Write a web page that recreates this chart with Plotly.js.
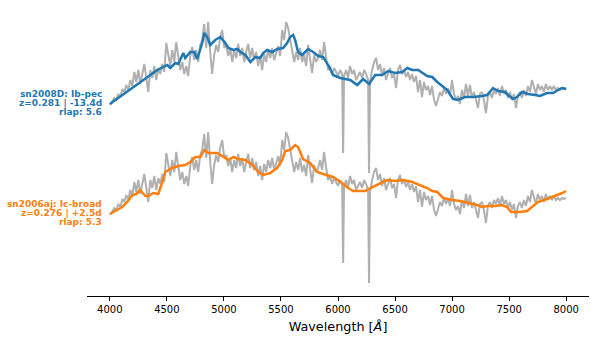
<!DOCTYPE html>
<html>
<head>
<meta charset="utf-8">
<script src="https://cdn.plot.ly/plotly-3.0.1.min.js"></script>
<style>
  html, body { margin: 0; padding: 0; background: #fff; }
  #chart { width: 598px; height: 345px; }
</style>
</head>
<body>
<div id="chart"></div>
<script>
// Observed spectrum (normalised flux), drawn twice with an offset under each template
const grayWave = [
  4004, 4022, 4039, 4057, 4074, 4092, 4110, 4127, 4145, 4162, 4180, 4197, 4215, 4232, 4250, 4267, 4285, 4302, 4320, 4337,
  4355, 4372, 4390, 4407, 4425, 4442, 4460, 4477, 4495, 4512, 4530, 4547, 4565, 4582, 4600, 4617, 4635, 4652, 4670, 4687,
  4705, 4722, 4740, 4757, 4775, 4792, 4810, 4827, 4845, 4862, 4880, 4897, 4915, 4932, 4950, 4967, 4985, 5003, 5020, 5038,
  5055, 5073, 5090, 5108, 5125, 5143, 5160, 5178, 5195, 5213, 5230, 5248, 5265, 5283, 5300, 5318, 5335, 5353, 5370, 5388,
  5406, 5423, 5441, 5458, 5476, 5493, 5511, 5528, 5546, 5563, 5581, 5598, 5616, 5633, 5651, 5668, 5686, 5703, 5721, 5738,
  5756, 5773, 5791, 5808, 5826, 5843, 5861, 5878, 5896, 5913, 5931, 5948, 5966, 5983, 6001, 6018, 6036, 6045, 6053, 6071,
  6088, 6106, 6123, 6141, 6158, 6176, 6193, 6211, 6229, 6246, 6264, 6272, 6281, 6299, 6316, 6334, 6351, 6369, 6386, 6404,
  6421, 6439, 6456, 6474, 6491, 6509, 6526, 6544, 6561, 6579, 6596, 6614, 6631, 6649, 6666, 6684, 6701, 6719, 6736, 6754,
  6771, 6789, 6807, 6824, 6842, 6859, 6877, 6894, 6912, 6929, 6947, 6964, 6982, 6999, 7017, 7034, 7052, 7069, 7087, 7104,
  7122, 7139, 7157, 7174, 7192, 7209, 7227, 7244, 7262, 7279, 7297, 7314, 7332, 7349, 7367, 7384, 7402, 7419, 7437, 7455,
  7472, 7490, 7507, 7525, 7542, 7560, 7577, 7595, 7612, 7630, 7647, 7665, 7682, 7700, 7717, 7735, 7752, 7770, 7787, 7805,
  7822, 7840, 7858, 7875, 7893, 7910, 7928, 7945, 7963, 7980, 7998
];
const grayFlux = [
  0.81, 0.84, 0.88, 0.86, 0.92, 0.89, 0.97, 0.94, 1.01, 0.96, 1.06, 1.00, 1.14, 1.04, 1.16, 1.02, 1.12, 1.22, 1.08, 0.94,
  1.16, 1.08, 1.20, 1.06, 1.18, 1.12, 1.22, 1.14, 1.43, 1.31, 1.20, 1.36, 1.24, 1.44, 1.28, 1.16, 1.24, 1.12, 1.20, 1.10,
  1.30, 1.39, 1.26, 1.36, 1.24, 1.41, 1.46, 1.62, 1.38, 1.64, 1.34, 1.12, 1.31, 1.41, 1.34, 1.48, 1.56, 1.38, 1.41, 1.30,
  1.38, 1.24, 1.36, 1.28, 1.42, 1.30, 1.38, 1.24, 1.34, 1.42, 1.28, 1.38, 1.26, 1.34, 1.20, 1.30, 1.16, 1.32, 1.24, 1.36,
  1.28, 1.38, 1.26, 1.34, 1.40, 1.30, 1.56, 1.46, 1.64, 1.58, 1.46, 1.38, 1.24, 1.34, 1.26, 1.38, 1.24, 1.31, 1.20, 1.41,
  1.28, 1.13, 1.31, 1.24, 1.28, 1.36, 1.26, 1.44, 1.28, 1.16, 1.20, 1.12, 1.18, 1.14, 1.10, 1.16, 1.12, 0.33, 1.10, 1.16,
  1.08, 1.20, 1.12, 1.16, 1.06, 1.10, 1.14, 1.08, 1.16, 1.12, 1.06, 0.13, 1.04, 1.16, 1.24, 1.28, 1.16, 1.22, 1.10, 1.18,
  1.06, 1.12, 1.18, 1.08, 1.12, 0.98, 1.16, 1.21, 1.12, 1.16, 1.09, 1.14, 1.06, 1.12, 1.04, 1.10, 0.94, 1.06, 0.89, 1.04,
  0.96, 1.00, 0.91, 1.00, 0.86, 0.80, 0.88, 0.94, 0.90, 0.98, 0.92, 0.98, 0.90, 1.06, 0.92, 0.86, 0.90, 0.82, 0.96, 0.88,
  1.02, 0.90, 1.01, 0.88, 0.94, 0.86, 0.78, 0.92, 0.94, 0.86, 0.73, 0.90, 0.94, 0.88, 0.96, 0.92, 0.98, 0.90, 1.00, 0.92,
  0.96, 0.88, 0.94, 0.86, 0.92, 0.78, 0.90, 0.94, 0.88, 0.96, 0.90, 1.00, 0.94, 1.06, 0.98, 0.92, 1.02, 0.96, 1.00, 0.94,
  1.02, 0.96, 1.00, 0.96, 1.00, 0.96, 0.98, 0.96, 0.98, 0.97, 0.98
];

// Template 1: sn2008D (Ib-pec)
const sn2008dWave = [
  4000, 4136, 4267, 4355, 4416, 4468, 4503, 4530, 4574, 4600, 4644, 4661, 4705, 4740, 4766, 4810, 4828, 4854, 4880, 4924,
  4968, 5012, 5039, 5083, 5118, 5144, 5188, 5232, 5274, 5318, 5344, 5379, 5423, 5467, 5519, 5554, 5580, 5607, 5624, 5650,
  5685, 5712, 5738, 5782, 5826, 5870, 5914, 5957, 6019, 6107, 6168, 6220, 6273, 6326, 6387, 6440, 6501, 6563, 6607, 6651,
  6703, 6782, 6826, 6870, 6914, 6958, 7008, 7052, 7113, 7184, 7263, 7307, 7359, 7403, 7464, 7490, 7534, 7569, 7613, 7666,
  7727, 7771, 7832, 7885, 7929, 7964, 8000
];
const sn2008dFlux = [
  0.82, 0.93, 1.04, 1.11, 1.16, 1.19, 1.21, 1.18, 1.23, 1.22, 1.33, 1.28, 1.34, 1.34, 1.27, 1.43, 1.53, 1.49, 1.41, 1.46,
  1.49, 1.43, 1.38, 1.36, 1.37, 1.34, 1.31, 1.24, 1.29, 1.28, 1.33, 1.36, 1.34, 1.37, 1.38, 1.43, 1.49, 1.51, 1.46, 1.34,
  1.31, 1.34, 1.37, 1.34, 1.30, 1.29, 1.21, 1.11, 1.08, 1.06, 1.01, 1.07, 1.02, 1.11, 1.11, 1.15, 1.13, 1.14, 1.18, 1.16,
  1.16, 1.10, 1.09, 1.04, 1.00, 0.96, 0.87, 0.86, 0.89, 0.89, 0.90, 0.91, 0.98, 0.95, 0.94, 0.91, 0.87, 0.89, 0.94, 0.92,
  0.91, 0.90, 0.93, 0.93, 0.96, 0.98, 0.97
];

// Template 2: sn2006aj (Ic-broad)
const sn2006ajWave = [
  4000, 4048, 4109, 4153, 4197, 4232, 4267, 4311, 4337, 4381, 4425, 4460, 4486, 4547, 4600, 4661, 4705, 4749, 4793, 4828,
  4863, 4942, 4994, 5039, 5083, 5125, 5188, 5249, 5302, 5344, 5406, 5467, 5511, 5537, 5580, 5624, 5650, 5694, 5756, 5817,
  5870, 5957, 6036, 6089, 6133, 6238, 6282, 6343, 6431, 6501, 6571, 6651, 6720, 6782, 6826, 6870, 6922, 7001, 7071, 7158,
  7219, 7263, 7315, 7377, 7438, 7482, 7517, 7595, 7657, 7710, 7753, 7832, 7902, 7964, 8000
];
const sn2006ajFlux = [
  0.82, 0.85, 0.89, 0.94, 1.01, 1.02, 1.06, 1.00, 1.00, 1.03, 1.02, 1.14, 1.24, 1.28, 1.30, 1.31, 1.34, 1.39, 1.39, 1.46,
  1.43, 1.43, 1.39, 1.36, 1.39, 1.37, 1.36, 1.31, 1.24, 1.21, 1.23, 1.28, 1.36, 1.45, 1.46, 1.51, 1.49, 1.37, 1.33, 1.24,
  1.22, 1.19, 1.13, 1.08, 1.05, 1.05, 1.08, 1.11, 1.16, 1.15, 1.16, 1.14, 1.11, 1.08, 1.05, 1.04, 0.98, 0.96, 0.95, 0.93,
  0.91, 0.89, 0.90, 0.90, 0.91, 0.89, 0.84, 0.84, 0.85, 0.90, 0.94, 0.97, 1.00, 1.03, 1.05
];

const offsets = [1.1, 0.0];
const labels = [
  ["sn2008D: Ib-pec", "z=0.281 | -13.4d", "rlap: 5.6"],
  ["sn2006aj: Ic-broad", "z=0.276 | +2.5d", "rlap: 5.3"]
];
const colors = ["#1f77b4", "#ff7f0e"];
const templates = [
  { wave: sn2008dWave, flux: sn2008dFlux },
  { wave: sn2006ajWave, flux: sn2006ajFlux }
];

const traces = [];
const annotations = [];
templates.forEach((t, i) => {
  const off = offsets[i];
  traces.push({
    type: "scatter", mode: "lines",
    x: grayWave, y: grayFlux.map((v) => v + off),
    line: { color: "#b0b0b0", width: 2 },
    hoverinfo: "skip", showlegend: false,
  });
  traces.push({
    type: "scatter", mode: "lines",
    x: t.wave, y: t.flux.map((v) => v + off),
    line: { color: colors[i], width: 2.5 },
    hoverinfo: "skip", showlegend: false,
  });
  // label, right-aligned just left of the template start
  labels[i].forEach((txt, j) => {
    annotations.push({
      x: t.wave[0], y: t.flux[0] + off,
      xref: "x", yref: "y",
      text: "<b>" + txt + "</b>",
      showarrow: false,
      xanchor: "right", yanchor: "middle",
      xshift: -6, yshift: 9.3 * (1 - j) + 1,
      font: { family: "DejaVu Sans", size: 9, color: colors[i] },
    });
  });
});

Plotly.newPlot("chart", traces, {
  width: 598, height: 345,
  margin: { l: 87, r: 9, t: 5, b: 49 },
  paper_bgcolor: "#fff", plot_bgcolor: "#fff",
  font: { family: "DejaVu Sans", color: "#000" },
  xaxis: {
    range: [3800, 8200],
    tick0: 4000, dtick: 500,
    ticks: "outside", ticklen: 3.5, tickwidth: 1, tickcolor: "#000",
    showline: true, linecolor: "#000", linewidth: 1,
    showgrid: false, zeroline: false,
    tickfont: { family: "DejaVu Sans", size: 10, color: "#000" },
    title: { text: "Wavelength [<i>Å</i>]", font: { family: "DejaVu Sans", size: 12.8, color: "#000" }, standoff: 8 },
  },
  yaxis: {
    range: [0, 2.91],
    visible: false, showgrid: false, zeroline: false,
  },
  annotations: annotations,
  showlegend: false,
}, { staticPlot: true });
</script>
</body>
</html>
